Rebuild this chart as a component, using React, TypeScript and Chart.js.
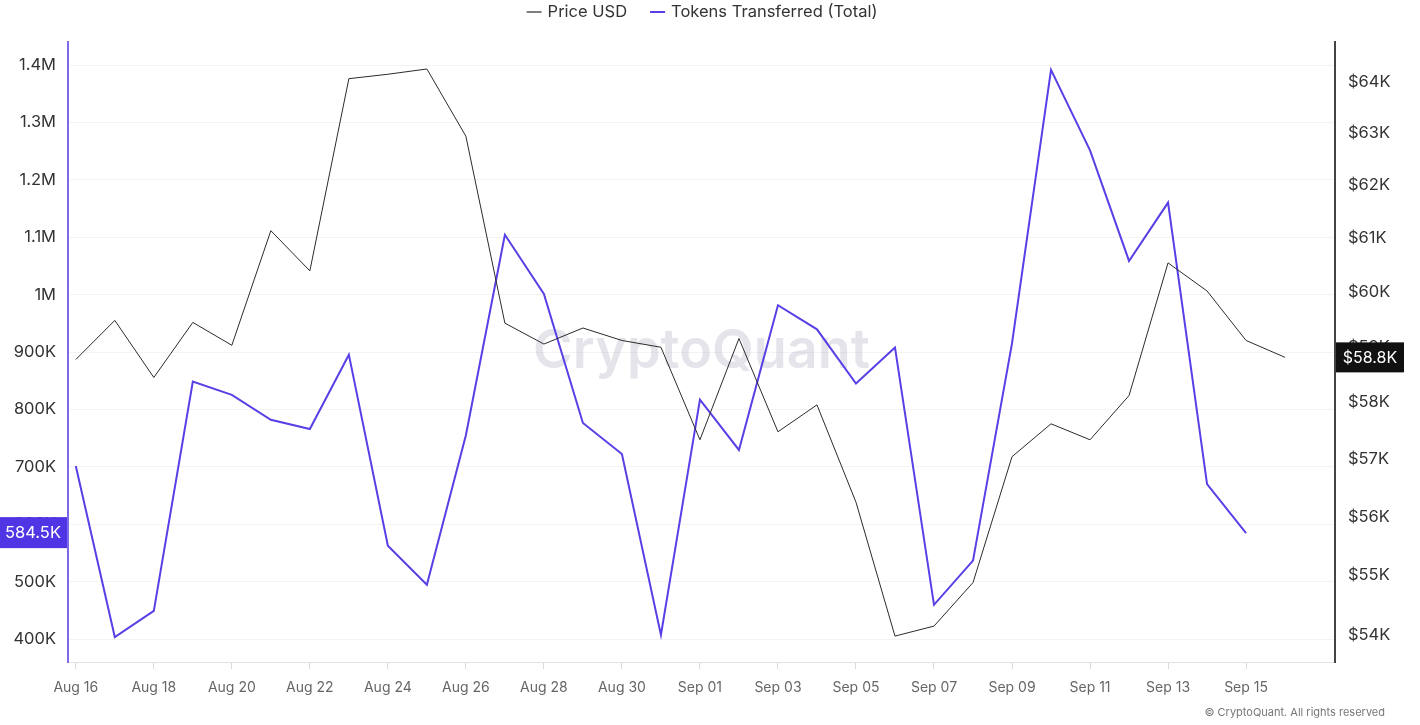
import React, { useEffect, useRef } from "react";
import { Chart, registerables } from "chart.js";

Chart.register(...registerables);

const dates = [
  "Aug 16", "Aug 17", "Aug 18", "Aug 19", "Aug 20", "Aug 21", "Aug 22", "Aug 23",
  "Aug 24", "Aug 25", "Aug 26", "Aug 27", "Aug 28", "Aug 29", "Aug 30", "Aug 31",
  "Sep 01", "Sep 02", "Sep 03", "Sep 04", "Sep 05", "Sep 06", "Sep 07", "Sep 08",
  "Sep 09", "Sep 10", "Sep 11", "Sep 12", "Sep 13", "Sep 14", "Sep 15", "Sep 16",
];

const priceUsd = [
  58770, 59480, 58446, 59443, 59027, 61142, 60392, 64065, 64152, 64256, 62943,
  59429, 59049, 59341, 59114, 58991, 57338, 59150, 57479, 57956, 56249, 53982,
  54148, 54877, 57041, 57620, 57338, 58122, 60540, 60020, 59114, 58808,
];

const tokensTransferred = [
  701300, 403500, 449100, 848500, 825400, 781900, 765800, 895400, 562600, 494600,
  755000, 1104300, 1001300, 776300, 722400, 407000, 817000, 729400, 981600, 939600,
  845000, 908000, 459600, 536700, 915000, 1391600, 1251400, 1058700, 1160300,
  669800, 584500, null,
];

const leftTicks = [400000, 500000, 600000, 700000, 800000, 900000, 1000000, 1100000, 1200000, 1300000, 1400000];
const rightTicks = [54000, 55000, 56000, 57000, 58000, 59000, 60000, 61000, 62000, 63000, 64000];
const xTickIndexes = [0, 2, 4, 6, 8, 10, 12, 14, 16, 18, 20, 22, 24, 26, 28, 30];

const PRICE_COLOR = "#2b2b2b";
const TOKENS_COLOR = "#5640e6";
const FONT = "Inter, 'Noto Sans', sans-serif";

function fmtLeft(v: number) {
  if (v >= 1e6) return parseFloat((v / 1e6).toFixed(2)) + "M";
  return parseFloat((v / 1e3).toFixed(1)) + "K";
}

const overlayPlugin = {
  id: "overlay",
  beforeDatasetsDraw(chart: any) {
    const { ctx, chartArea } = chart;
    ctx.save();
    ctx.font = `600 54px ${FONT}`;
    ctx.fillStyle = "rgba(180,180,198,0.36)";
    ctx.textAlign = "center";
    ctx.textBaseline = "middle";
    ctx.fillText("CryptoQuant", (chartArea.left + chartArea.right) / 2, 352);
    ctx.restore();
  },
  afterDraw(chart: any) {
    const { ctx } = chart;
    ctx.save();
    // legend
    ctx.font = `16.5px ${FONT}`;
    ctx.textBaseline = "middle";
    ctx.textAlign = "left";
    const items = chart.data.datasets.map((d: any) => ({ label: d.label, color: d.borderColor }));
    const lineW = 15, gap = 6, itemGap = 23;
    const widths = items.map((it: any) => lineW + gap + ctx.measureText(it.label).width);
    const total = widths.reduce((a: number, b: number) => a + b, 0) + itemGap * (items.length - 1);
    let x = 702 - total / 2;
    const ly = 12;
    items.forEach((it: any, i: number) => {
      ctx.strokeStyle = it.color;
      ctx.lineWidth = i === 0 ? 1.2 : 2;
      ctx.beginPath();
      ctx.moveTo(x, ly);
      ctx.lineTo(x + lineW, ly);
      ctx.stroke();
      ctx.fillStyle = "#333";
      ctx.fillText(it.label, x + lineW + gap, ly);
      x += widths[i] + itemGap;
    });

    // last-value badges
    const yL = chart.scales.yTokens;
    const yR = chart.scales.yPrice;
    const lastTok = tokensTransferred[30] as number;
    const lastPrice = priceUsd[priceUsd.length - 1];
    const ty = yL.getPixelForValue(lastTok);
    ctx.fillStyle = "#4f35e4";
    ctx.fillRect(0, ty - 16, 67, 31);
    ctx.fillStyle = "#fff";
    ctx.font = `16.5px ${FONT}`;
    ctx.textAlign = "center";
    ctx.fillText((lastTok / 1000).toFixed(1) + "K", 33, ty);

    const py = yR.getPixelForValue(lastPrice);
    ctx.fillStyle = "#111";
    ctx.fillRect(1336, py - 15, 68, 30);
    ctx.fillStyle = "#fff";
    ctx.font = `16px ${FONT}`;
    ctx.fillText("$" + (lastPrice / 1000).toFixed(1) + "K", 1370, py + 0.5);

    // copyright
    ctx.font = `11px ${FONT}`;
    ctx.fillStyle = "#777";
    ctx.textAlign = "right";
    ctx.fillText("\u00A9 CryptoQuant. All rights reserved", 1385, 713);
    ctx.restore();
  },
};

export default function App() {
  const ref = useRef<HTMLCanvasElement | null>(null);

  useEffect(() => {
    if (!ref.current) return;
    const chart = new Chart(ref.current, {
      type: "line",
      data: {
        datasets: [
          {
            label: "Price USD",
            data: priceUsd.map((v, i) => ({ x: i, y: v })),
            borderColor: PRICE_COLOR,
            borderWidth: 1,
            pointRadius: 0,
            tension: 0,
            yAxisID: "yPrice",
          },
          {
            label: "Tokens Transferred (Total)",
            data: tokensTransferred.map((v, i) => ({ x: i, y: v })),
            borderColor: TOKENS_COLOR,
            borderWidth: 2,
            pointRadius: 0,
            tension: 0,
            yAxisID: "yTokens",
          },
        ],
      },
      options: {
        responsive: false,
        animation: false,
        devicePixelRatio: 1,
        layout: { padding: { top: 42, left: 0, right: 0, bottom: 0 } },
        plugins: {
          legend: { display: false },
          tooltip: { enabled: false },
        },
        scales: {
          x: {
            type: "linear",
            min: -0.2,
            max: 32.28,
            afterBuildTicks: (s: any) => {
              s.ticks = xTickIndexes.map((v) => ({ value: v }));
            },
            afterFit: (s: any) => {
              s.height = 63;
            },
            grid: { drawOnChartArea: false, tickLength: 7, color: "#dcdcdc" },
            border: { color: "#e2e2e2", width: 1 },
            ticks: {
              autoSkip: false,
              maxRotation: 0,
              padding: 10,
              color: "#666",
              font: { family: FONT, size: 14 },
              callback: (v: any) => dates[v] ?? "",
            },
          },
          yTokens: {
            type: "linear",
            position: "left",
            min: 360000,
            max: 1440100,
            afterBuildTicks: (s: any) => {
              s.ticks = leftTicks.map((v) => ({ value: v }));
            },
            afterFit: (s: any) => {
              s.width = 68;
            },
            grid: { color: "#f3f3f3", drawTicks: false },
            border: { color: "#7d6ae9", width: 2 },
            ticks: {
              padding: 12,
              color: "#333",
              font: { family: FONT, size: 16.5 },
              callback: (v: any) => fmtLeft(v),
            },
          },
          yPrice: {
            type: "logarithmic",
            position: "right",
            min: 53554,
            max: 64791,
            afterBuildTicks: (s: any) => {
              s.ticks = rightTicks.map((v) => ({ value: v }));
            },
            afterFit: (s: any) => {
              s.width = 85;
            },
            grid: { drawOnChartArea: false, drawTicks: false },
            border: { color: "#444", width: 2 },
            ticks: {
              padding: 13,
              color: "#333",
              font: { family: FONT, size: 16.5 },
              callback: (v: any) => "$" + Math.round(v / 1000) + "K",
            },
          },
        },
      },
      plugins: [overlayPlugin],
    });
    return () => chart.destroy();
  }, []);

  return (
    <div style={{ position: "fixed", left: 0, top: 0, width: 1420, height: 725, background: "#fff" }}>
      <canvas ref={ref} width={1420} height={725} style={{ display: "block" }} />
    </div>
  );
}
